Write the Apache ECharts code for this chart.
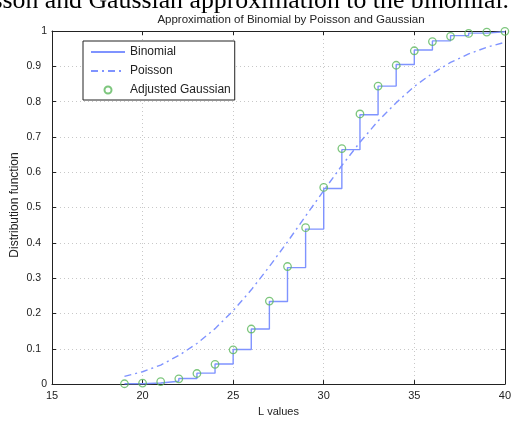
<!DOCTYPE html>
<html>
<head>
<meta charset="utf-8">
<script src="https://cdn.jsdelivr.net/npm/echarts@6/dist/echarts.min.js"></script>
<style>
html,body{margin:0;padding:0;background:#fff;}
#chart{width:514px;height:422px;}
</style>
</head>
<body>
<div id="chart"></div>
<script>
var kValues = [19,20,21,22,23,24,25,26,27,28,29,30,31,32,33,34,35,36,37,38,39,40];
var binomialCdf = [0.001,0.003,0.008,0.016,0.031,0.057,0.098,0.156,0.234,0.330,0.439,0.554,0.664,0.763,0.844,0.905,0.946,0.972,0.987,0.994,0.998,0.999];
var poissonCdf = [0.022,0.035,0.054,0.081,0.115,0.157,0.208,0.267,0.333,0.403,0.476,0.548,0.619,0.685,0.745,0.797,0.843,0.880,0.911,0.935,0.954,0.968];
var gaussianCdf = [0.001,0.003,0.007,0.015,0.030,0.056,0.097,0.156,0.235,0.333,0.443,0.557,0.667,0.765,0.844,0.903,0.944,0.970,0.985,0.993,0.997,0.999];
var seriesNames = ['Binomial','Poisson','Adjusted Gaussian'];
var chartTitle = 'Approximation of Binomial by Poisson and Gaussian';
var captionText = 'Poisson and Gaussian approximation to the binomial.';
var xName = 'L values';
var yName = 'Distribution function';

function pairs(xs, ys){ return xs.map(function(x,i){ return [x, ys[i]]; }); }

var blue = '#7f93ff';
var green = '#5cb85c';
var clear = 'rgba(0,0,0,0)';
var font = 'Liberation Sans, Arial, sans-serif';

var chart = echarts.init(document.getElementById('chart'), null, {renderer:'canvas'});
var gridLine = {show:true, lineStyle:{color:'#c8c8c8', type:[1,3], width:1}};
chart.setOption({
  animation:false,
  backgroundColor:'#fff',
  grid:{left:52, right:7, top:31, bottom:29, containLabel:false},
  graphic:[
    {type:'text', right:5, top:-12, style:{text:captionText, font:'25.8px "Liberation Serif", "Times New Roman", serif', fill:'#000'}},
    {type:'text', x:291, y:20, style:{text:chartTitle, font:'11.5px '+font, fill:'#222', align:'center', verticalAlign:'middle'}},
    {type:'text', x:15, y:205, rotation:Math.PI/2, style:{text:yName, font:'12px '+font, fill:'#222', align:'center', verticalAlign:'middle'}}
  ],
  legend:{
    orient:'vertical', left:83, top:41,
    data:[
      {name:seriesNames[0], itemStyle:{color:clear, borderColor:clear, borderWidth:0}},
      {name:seriesNames[1], itemStyle:{color:clear, borderColor:clear, borderWidth:0}},
      {name:seriesNames[2]}
    ],
    backgroundColor:'#fff', borderColor:'#222', borderWidth:1, borderRadius:0,
    padding:[5,4,4,7], itemWidth:34, itemHeight:7, itemGap:7,
    textStyle:{fontFamily:font, fontSize:12, color:'#222'}
  },
  xAxis:[
    {type:'value', min:15, max:40, interval:5, name:xName, nameLocation:'middle', nameGap:20,
     nameTextStyle:{fontFamily:font, fontSize:11, color:'#222'},
     axisLine:{show:true, onZero:false, lineStyle:{color:'#222', width:1}},
     axisTick:{show:true, inside:true, length:4, lineStyle:{color:'#222'}},
     axisLabel:{fontFamily:font, fontSize:11, color:'#222', margin:6},
     splitLine:gridLine},
    {type:'value', position:'top', min:15, max:40, interval:5,
     axisLine:{show:true, onZero:false, lineStyle:{color:'#222', width:1}},
     axisTick:{show:true, inside:true, length:4, lineStyle:{color:'#222'}},
     axisLabel:{show:false}, splitLine:{show:false}}
  ],
  yAxis:[
    {type:'value', min:0, max:1, interval:0.1,
     axisLine:{show:true, onZero:false, lineStyle:{color:'#222', width:1}},
     axisTick:{show:true, inside:true, length:4, lineStyle:{color:'#222'}},
     axisLabel:{fontFamily:font, fontSize:10.5, color:'#222', margin:5,
       formatter:function(v){ var s = String(Math.round(v*10)/10); return (s==='0'||s==='1') ? '{a|'+s+'}' : '{b|'+s+'}'; },
       rich:{a:{fontFamily:font, fontSize:10.5, color:'#222'}, b:{fontFamily:font, fontSize:10.5, color:'#222', padding:[0,6,0,0]}}},
     splitLine:gridLine},
    {type:'value', position:'right', min:0, max:1, interval:0.1,
     axisLine:{show:true, onZero:false, lineStyle:{color:'#222', width:1}},
     axisTick:{show:true, inside:true, length:4, lineStyle:{color:'#222'}},
     axisLabel:{show:false}, splitLine:{show:false}}
  ],
  series:[
    {name:seriesNames[0], type:'line', step:'end', data:pairs(kValues, binomialCdf),
     symbol:'none', lineStyle:{color:blue, width:1.4}, itemStyle:{color:blue}, z:3},
    {name:seriesNames[1], type:'line', smooth:false, data:pairs(kValues, poissonCdf),
     symbol:'none', lineStyle:{color:blue, width:1.4, type:[7,4,2,4]}, itemStyle:{color:blue}, z:2},
    {name:seriesNames[2], type:'scatter', data:pairs(kValues, gaussianCdf),
     symbol:'circle', symbolSize:7.5, itemStyle:{color:clear, borderColor:green, borderWidth:1.3}, z:4}
  ]
});
</script>
</body>
</html>
